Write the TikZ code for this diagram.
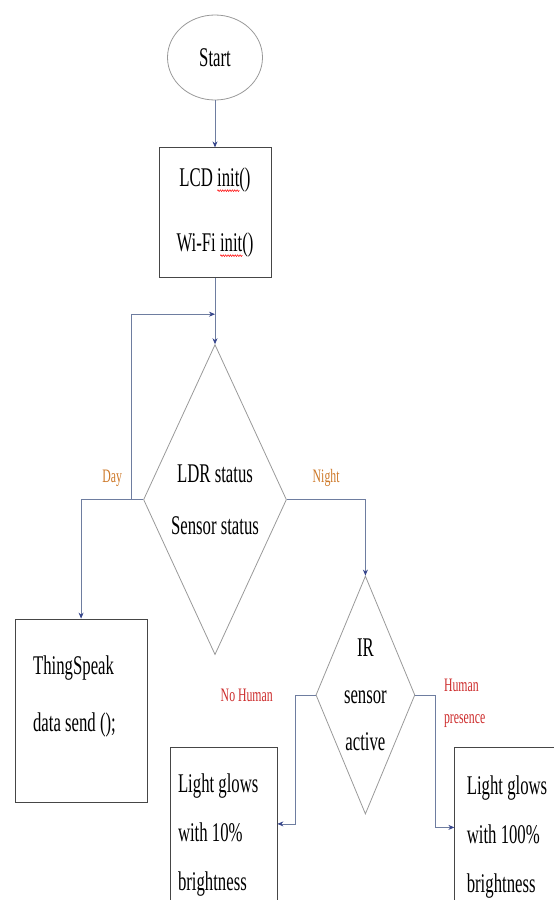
\documentclass[tikz,border=0pt]{standalone}
\usepackage{fontspec}
\setmainfont{Liberation Serif}[FakeStretch=0.62]
\usetikzlibrary{arrows.meta,positioning,shapes.geometric,decorations.pathmorphing}
\definecolor{flowline} {RGB}{110,125,160}
\definecolor{tipblue}  {RGB}{ 55, 70,140}
\definecolor{edgegray} {RGB}{ 70, 70, 70}
\definecolor{dayorange}{RGB}{205,120, 40}
\definecolor{humanred} {RGB}{205, 45, 45}
\newsavebox\wavebox
\newlength\wavelen
\newcommand\spellwave[1]{\sbox\wavebox{#1}\setlength\wavelen{\wd\wavebox}%
  \rlap{\raisebox{-5pt}{\tikz\draw[red, line width=0.5pt, decorate, decoration={zigzag, amplitude=0.9pt, segment length=2.4pt}] (0pt,0pt) -- (\wavelen,0pt);}}%
  \usebox\wavebox}

\begin{document}
\begin{tikzpicture}[x=1pt, y=1pt,
    font={\fontsize{27}{48}\selectfont},
    terminal/.style={draw=gray!80, ellipse, line width=0.8pt, minimum width=95pt, minimum height=85pt, inner sep=0pt},
    process/.style={draw=edgegray, rectangle, line width=0.8pt, inner sep=0pt},
    decision/.style={draw=gray!80, diamond, line width=0.8pt, inner sep=0pt, align=center},
    cond/.style={font={\fontsize{19}{32}\selectfont}},
    arrow/.style={draw=flowline, line width=0.8pt, -{Stealth[length=6pt, width=5pt, color=tipblue]}}
]
    \clip (0,0) rectangle (554,-900);

    % Main column
    \node[terminal] (start) at (215,-57.5) {Start};
    \node[process, minimum width=112pt, minimum height=130pt, align=center] (init) [below=47pt of start] {LCD \spellwave{init}()\\[17pt]Wi-Fi \spellwave{init}()};
    \node[decision, shape aspect=0.46, minimum width=143pt, minimum height=310pt] (ldr) [below=66pt of init] {LDR status\\[4pt]Sensor status};

    % Day side
    \node[process, minimum height=183pt, text width=96pt, inner xsep=18pt, align=flush left] (thingspeak) [below=119pt of ldr.west, xshift=-62pt] {ThingSpeak\\[9pt]data send ();\\[-14pt]\mbox{}};

    % Night side
    \node[decision, shape aspect=0.42, minimum width=99pt, minimum height=238pt] (ir) [below=76pt of ldr.east, xshift=78.5pt] {IR\\[-1pt]sensor\\[-1pt]active};
    \node[process, minimum height=153pt, text width=91pt, inner xsep=8pt, align=flush left] (lightlo) [below=52pt of ir.west, xshift=-92pt] {\mbox{}\\[-7pt]Light glows\\[1pt]with 10\%\\[1pt]brightness};
    \node[process, minimum height=160pt, text width=95pt, inner xsep=12pt, align=flush left] (lighthi) [below=52pt of ir.east, xshift=99pt] {\mbox{}\\[-10pt]Light glows\\[1pt]with 100\%\\[1pt]brightness};

    % Loop-back points
    \coordinate (back) at ([xshift=-12pt]ldr.west);
    \coordinate (merge) at ([yshift=30pt]ldr.north);

    % Connections
    \draw[arrow] (start) -- (init);
    \draw[arrow] (init) -- (ldr);
    \draw[arrow] (back) |- (merge);
    \draw[arrow] (ldr.west) -| node[cond, pos=0.25, above=9pt, text=dayorange] {Day} (thingspeak);
    \draw[arrow] (ldr.east) -| node[cond, pos=0.25, above=9pt, text=dayorange] {Night} (ir);
    \draw[arrow] (ir.west) -- node[cond, at end, left=19pt, text=humanred] {No Human} ++(-20pt,0) |- (lightlo);
    \draw[arrow] (ir.east) -- node[cond, at end, right=5pt, yshift=-8pt, align=left, text=humanred] {Human\\presence} ++(20pt,0) |- (lighthi);
\end{tikzpicture}
\end{document}
